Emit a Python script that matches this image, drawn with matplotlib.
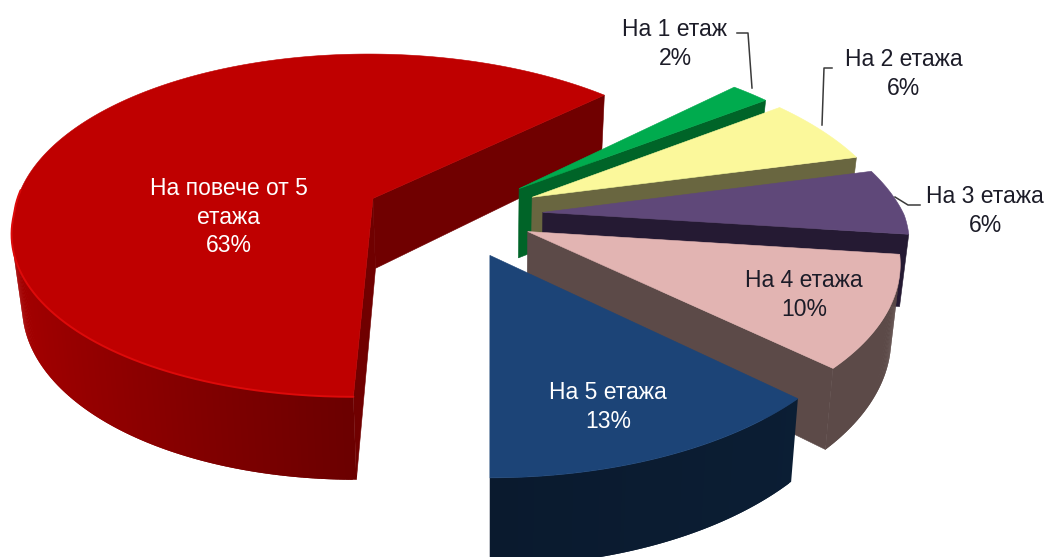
import numpy as np
import matplotlib
matplotlib.use("Agg")
import matplotlib.pyplot as plt
from matplotlib.patches import Polygon
from matplotlib.colors import to_rgb

plt.rcParams['font.family'] = ['Liberation Sans', 'DejaVu Sans']

categories = ['На 1 етаж', 'На 2 етажа', 'На 3 етажа', 'На 4 етажа', 'На 5 етажа', 'На повече от 5\nетажа']
values = [2, 6, 6, 10, 13, 63]
explode = [0.246, 0.246, 0.246, 0.222, 0.246, 0.246]
top_colors = ['#00AB4E', '#FBF89B', '#5F4879', '#E2B4B2', '#1C4477', '#BF0000']
end_colors = ['#006428', '#696640', '#251A33', '#5C4A48', '#0C1C30', '#700000']
rim_near = ['#006428', '#696640', '#251A33', '#5C4A48', '#0A1A2E', '#6B0000']
rim_far = ['#006428', '#696640', '#251A33', '#5C4A48', '#0C1F36', '#A80000']
label_colors = ['#1c1c28', '#1c1c28', '#1c1c28', '#1c1c28', 'white', 'white']
draw_order = [5, 0, 1, 2, 3, 4]

START = 46.8
PERSP = 0.16
AX, BX, X0, Y0, U0 = 361.0, 172.4, 490.0, 215.0, 0.098
DEPTH, LEAN, SHEAR = 71.0, 0.022, 20.0


def project(u, v, z):
    w = 1 + PERSP * v
    x = X0 + AX * (u - U0) / w * (1 - LEAN * z) - SHEAR * max(v, 0)
    y = Y0 - BX * v / w + DEPTH * z / w
    return x, y


def area(q):
    q = np.array(q)
    x, y = q[:, 0], q[:, 1]
    return np.sum(x * np.roll(y, -1) - np.roll(x, -1) * y)


fig = plt.figure(figsize=(10.49, 5.57), dpi=100)
ax = fig.add_axes([0, 0, 1, 1])
ax.set_xlim(0, 1049)
ax.set_ylim(557, 0)
ax.axis('off')

edges = START + np.cumsum([0] + values) * 3.6
for order, i in enumerate(draw_order):
    t0, t1 = edges[i], edges[i + 1]
    mid = np.radians((t0 + t1) / 2)
    cu, cv = explode[i] * np.sin(mid), explode[i] * np.cos(mid)
    th = np.radians(np.linspace(t0, t1, max(int(t1 - t0) * 2, 8) + 1))
    us, vs = cu + np.sin(th), cv + np.cos(th)
    top = [project(a, b, 0) for a, b in zip(us, vs)]
    bot = [project(a, b, 1) for a, b in zip(us, vs)]
    apex_t, apex_b = project(cu, cv, 0), project(cu, cv, 1)
    base = order * 10

    # radial faces
    qa = [apex_t, top[0], bot[0], apex_b]
    qb = [apex_t, top[-1], bot[-1], apex_b]
    if area(qa) < 0:
        ax.add_patch(Polygon(qa, closed=True, fc=end_colors[i], ec=end_colors[i], lw=0.4, zorder=base + 1))
    if area(qb) > 0:
        ax.add_patch(Polygon(qb, closed=True, fc=end_colors[i], ec=end_colors[i], lw=0.4, zorder=base + 1))

    # outer wall, shaded along the arc; strips overlap so no seams show
    cn, cf = np.array(to_rgb(rim_near[i])), np.array(to_rgb(rim_far[i]))
    n = len(th)
    for j in range(n - 1):
        k = min(j + 2, n - 1)
        q = [top[j], top[k], bot[k], bot[j]]
        if area(q) < 0:
            f = np.clip(abs(np.sin(th[j])), 0, 1)
            c = cn + (cf - cn) * f
            ax.add_patch(Polygon(q, closed=True, fc=c, ec='none', lw=0, zorder=base + 2))

    # top face
    ax.add_patch(Polygon([apex_t] + top, closed=True, fc=top_colors[i], ec=top_colors[i], lw=0.4, zorder=base + 3))

    # highlight on the front rim of the big slice
    if i == len(values) - 1:
        mask = np.cos(th) < 0.05
        pts = np.array(top)[mask]
        ax.plot(pts[:, 0], pts[:, 1], color='#DD0A0A', lw=1.4, zorder=base + 4, solid_capstyle='round')

# Leader lines
leader_x = [[737, 748, 752], [832, 824, 822], [920, 908, 895]]
leader_y = [[33, 33, 88], [68, 68, 125], [205, 205, 197]]
for lx, ly in zip(leader_x, leader_y):
    ax.plot(lx, ly, color='#3a3a3a', lw=1.1, zorder=100)

label_xy = [(675, 44), (904, 74), (985, 211), (804, 295), (608, 407), (229, 217)]
for name, v, c, (lx, ly) in zip(categories, values, label_colors, label_xy):
    ax.text(lx, ly, f'{name}\n{v}%', ha='center', va='center', color=c, fontsize=16.5,
            linespacing=1.32, zorder=110)

fig.savefig('out.png', dpi=100)
